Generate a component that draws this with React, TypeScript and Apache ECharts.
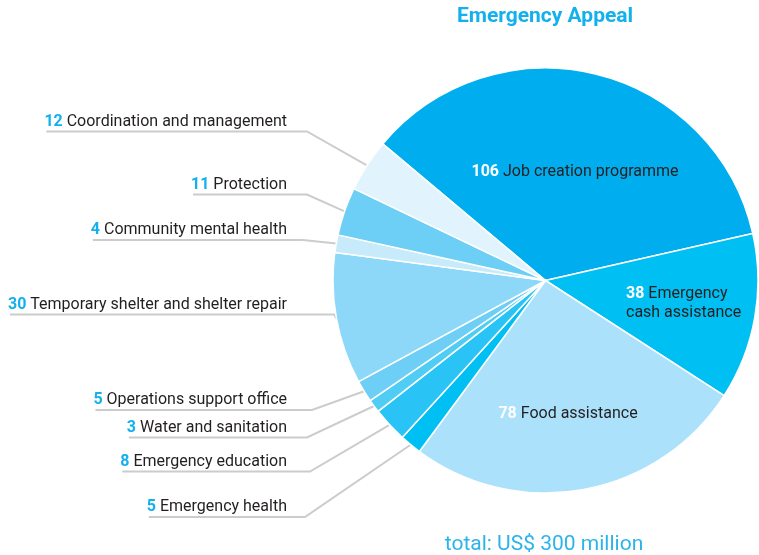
import React, { useEffect, useRef } from "react";
import * as echarts from "echarts";

const categories = [
  "Job creation programme",
  "Emergency cash assistance",
  "Food assistance",
  "Emergency health",
  "Emergency education",
  "Water and sanitation",
  "Operations support office",
  "Temporary shelter and shelter repair",
  "Community mental health",
  "Protection",
  "Coordination and management",
];
const values = [106, 38, 78, 5, 8, 3, 5, 30, 4, 11, 12];
const insideIdx = [0, 1, 2];
const titleText = "Emergency Appeal";
const totalText = "total: US$ 300 million";

const sliceColors = [
  "#00aeef", "#00bff3", "#abe1fa", "#00bff3", "#29c4f5", "#4fcdf5",
  "#6dcff6", "#8dd8f8", "#c7ebfb", "#6dcff6", "#e1f4fd",
];
// label layout (positions only)
const insideLabelPos: Record<number, [number, number, string]> = {
  0: [575, 170, "center"],
  1: [626, 302, "left"],
  2: [568, 412, "center"],
};
const outsideLineY: Record<number, number> = {
  3: 517, 4: 471.5, 5: 437.5, 6: 410, 7: 314.5, 8: 240, 9: 194.5, 10: 131.5,
};
const outsideBendX: Record<number, number> = {
  3: 305, 4: 310, 5: 307, 6: 312, 7: 334, 8: 303, 9: 307, 10: 307,
};
const LABEL_RIGHT = 287;
const FONT = "Roboto";

export default function App() {
  const ref = useRef<HTMLDivElement>(null);
  useEffect(() => {
    if (!ref.current) return;
    const chart = echarts.init(ref.current, undefined, { renderer: "svg" });
    const data = categories.map((name, i) => ({
      name,
      value: values[i],
      itemStyle: { color: sliceColors[i] },
      label: insideIdx.includes(i) ? { position: "inside" } : { position: "outside" },
    }));
    chart.setOption({
      animation: false,
      graphic: [
        {
          type: "text",
          x: 545,
          y: 15,
          style: {
            text: titleText,
            fill: "#12b0ec",
            font: `bold 21px ${FONT}`,
            textAlign: "center",
            textVerticalAlign: "middle",
          },
        },
        {
          type: "text",
          x: 544,
          y: 543,
          style: {
            text: totalText,
            fill: "#2ab4ea",
            font: `21px ${FONT}`,
            textAlign: "center",
            textVerticalAlign: "middle",
          },
        },
      ],
      series: [
        {
          type: "pie",
          center: [545.5, 280.5],
          radius: [0, 212.5],
          startAngle: 140,
          clockwise: true,
          avoidLabelOverlap: false,
          data,
          itemStyle: { borderColor: "#ffffff", borderWidth: 1.5 },
          emphasis: { disabled: true },
          labelLine: {
            show: true,
            length: 20,
            length2: 20,
            lineStyle: { color: "#cccccc", width: 2 },
          },
          label: {
            fontFamily: FONT,
            fontSize: 16,
            color: "#231f20",
            formatter: (p: any) => {
              const i = p.dataIndex;
              const nStyle = insideIdx.includes(i) ? "nw" : "n";
              if (i === 1) {
                return `{${nStyle}|${values[i]}} {t|Emergency}\n{t|cash assistance}`;
              }
              return `{${nStyle}|${values[i]}} {t|${categories[i]}}`;
            },
            rich: {
              n: { fontFamily: FONT, fontSize: 16, fontWeight: "bold", color: "#12b0ec", lineHeight: 19 },
              nw: { fontFamily: FONT, fontSize: 16, fontWeight: "bold", color: "#ffffff", lineHeight: 19 },
              t: { fontFamily: FONT, fontSize: 16, color: "#231f20", lineHeight: 19 },
            },
          },
          labelLayout: (params: any) => {
            const i = params.dataIndex;
            if (insideLabelPos[i]) {
              const [x, y, align] = insideLabelPos[i];
              return { x, y, align, verticalAlign: "middle" };
            }
            const lineY = outsideLineY[i];
            const w = params.labelRect.width;
            const p0 = params.labelLinePoints ? params.labelLinePoints[0] : [outsideBendX[i], lineY];
            return {
              x: LABEL_RIGHT,
              y: lineY - 2,
              align: "right",
              verticalAlign: "bottom",
              labelLinePoints: [
                [p0[0], p0[1]],
                [outsideBendX[i], lineY],
                [LABEL_RIGHT - w + 2, lineY],
              ],
            };
          },
        },
      ],
    });
    return () => chart.dispose();
  }, []);
  return (
    <div
      ref={ref}
      style={{ position: "fixed", left: 0, top: 0, width: 759, height: 555 }}
    />
  );
}
